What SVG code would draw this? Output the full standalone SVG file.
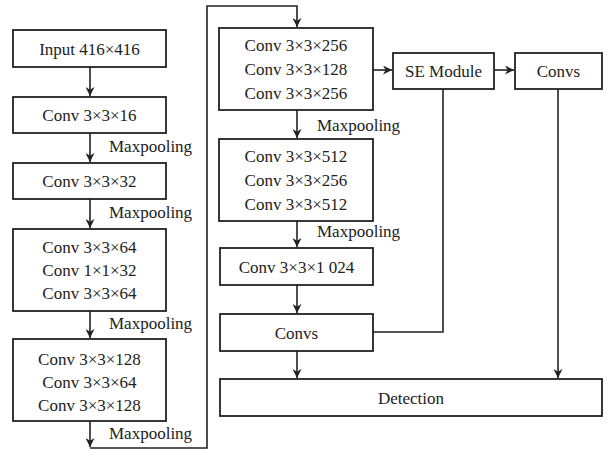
<svg xmlns="http://www.w3.org/2000/svg" width="613" height="449" viewBox="0 0 613 449">
<style>
rect.b{fill:#fff;stroke:#222;stroke-width:1.8}
text{font-family:'Liberation Serif','Tinos','DejaVu Serif',serif;font-size:17px;fill:#222}
text.c{text-anchor:middle}
.ln{fill:none;stroke:#222;stroke-width:1.6}
</style>
<defs>
<marker id="ah" viewBox="0 0 10 10" refX="10" refY="5" markerWidth="9" markerHeight="9" markerUnits="userSpaceOnUse" orient="auto">
<path d="M0,0 L10,5 L0,10 L3,5 Z" fill="#222"/>
</marker>
</defs>
<rect width="613" height="449" fill="#fff"/>
<g id="connectors" font-family="Liberation Serif, serif">
<path class="ln" d="M90,67 V96" marker-end="url(#ah)"/>
<path class="ln" d="M90,133 V162" marker-end="url(#ah)"/>
<path class="ln" d="M90,199 V228" marker-end="url(#ah)"/>
<path class="ln" d="M90,311 V338" marker-end="url(#ah)"/>
<path class="ln" d="M90,421 V447" marker-end="url(#ah)"/>
<path class="ln" d="M90,448 H207 V6 H297 V27" marker-end="url(#ah)"/>
<path class="ln" d="M297,110 V138" marker-end="url(#ah)"/>
<path class="ln" d="M297,221 V247" marker-end="url(#ah)"/>
<path class="ln" d="M297,285 V313" marker-end="url(#ah)"/>
<path class="ln" d="M297,351 V378" marker-end="url(#ah)"/>
<path class="ln" d="M373,70 H392" marker-end="url(#ah)"/>
<path class="ln" d="M494,70 H514" marker-end="url(#ah)"/>
<path class="ln" d="M443,89 V332 H373"/>
<path class="ln" d="M558,89 V378" marker-end="url(#ah)"/>
<text x="109" y="152">Maxpooling</text>
<text x="109" y="218">Maxpooling</text>
<text x="109" y="329">Maxpooling</text>
<text x="109" y="439">Maxpooling</text>
<text x="317" y="131">Maxpooling</text>
<text x="317" y="237">Maxpooling</text>
</g>
<g id="input"><rect class="b" x="13" y="30" width="153" height="37"/><text class="c" x="89.5" y="54.5">Input 416×416</text></g>
<g id="conv16"><rect class="b" x="13" y="97" width="153" height="36"/><text class="c" x="89.5" y="121">Conv 3×3×16</text></g>
<g id="conv32"><rect class="b" x="13" y="163" width="153" height="36"/><text class="c" x="89.5" y="187">Conv 3×3×32</text></g>
<g id="conv64"><rect class="b" x="13" y="229" width="153" height="82"/>
<text class="c" x="89.5" y="253">Conv 3×3×64</text>
<text class="c" x="89.5" y="276">Conv 1×1×32</text>
<text class="c" x="89.5" y="299">Conv 3×3×64</text></g>
<g id="conv128"><rect class="b" x="13" y="339" width="153" height="82"/>
<text class="c" x="89.5" y="365">Conv 3×3×128</text>
<text class="c" x="89.5" y="388">Conv 3×3×64</text>
<text class="c" x="89.5" y="411">Conv 3×3×128</text></g>
<g id="conv256"><rect class="b" x="219" y="28" width="154" height="82"/>
<text class="c" x="296" y="51">Conv 3×3×256</text>
<text class="c" x="296" y="75">Conv 3×3×128</text>
<text class="c" x="296" y="99">Conv 3×3×256</text></g>
<g id="conv512"><rect class="b" x="219" y="139" width="154" height="82"/>
<text class="c" x="296" y="162">Conv 3×3×512</text>
<text class="c" x="296" y="186">Conv 3×3×256</text>
<text class="c" x="296" y="210">Conv 3×3×512</text></g>
<g id="conv1024"><rect class="b" x="220" y="248" width="153" height="37"/><text class="c" x="296.5" y="272.5">Conv 3×3×1 024</text></g>
<g id="convs1"><rect class="b" x="220" y="314" width="153" height="37"/><text class="c" x="296.5" y="338.5">Convs</text></g>
<g id="se"><rect class="b" x="393" y="53" width="101" height="36"/><text class="c" x="443.5" y="77">SE Module</text></g>
<g id="convs2"><rect class="b" x="515" y="53" width="87" height="36"/><text class="c" x="558.5" y="77">Convs</text></g>
<g id="detection"><rect class="b" x="220" y="379" width="382" height="37"/><text class="c" x="411" y="403.5">Detection</text></g>
</svg>
